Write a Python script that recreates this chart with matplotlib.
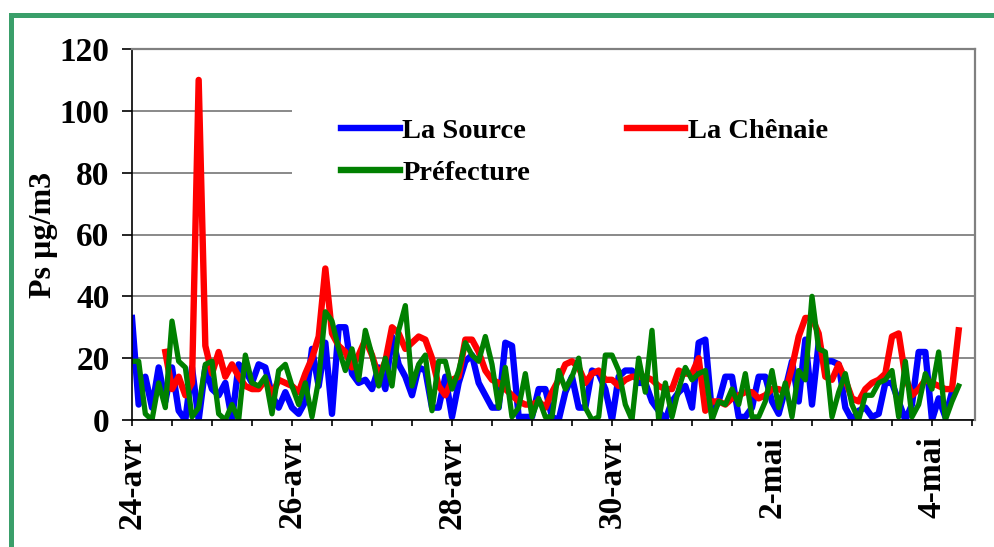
import numpy as np
import matplotlib
matplotlib.use('Agg')
import matplotlib.pyplot as plt
from matplotlib.patches import Rectangle

plt.rcParams.update({
    'font.family': ['Liberation Serif', 'DejaVu Serif'],
    'font.weight': 'bold',
    'font.size': 21,
})

nan = np.nan

# 2-hourly values, starting 24-avr 00:00
la_source = [33, 5, 14, 4, 17, 6, 17, 3, 0, 17, 0, 17, 10, 8, 12, 0, 18, 16,
             12, 18, 17, 8, 4, 9, 4, 2, 6, 23, 11, 25, 2, 30, 30, 15, 12, 13,
             10, 17, 10, 27, 18, 14, 8, 17, 16, 4, 4, 14, 1, 12, 19, 21, 12, 8,
             4, 4, 25, 24, 1, 1, 1, 10, 10, 1, 0, 9, 14, 4, 4, 16, 15, 10,
             0, 14, 16, 16, 12, 12, 6, 3, 0, 6, 9, 11, 4, 25, 26, 2, 6, 14,
             14, 1, 1, 4, 14, 14, 6, 2, 10, 19, 6, 26, 5, 25, 19, 19, 18, 4,
             0, 3, 4, 1, 2, 12, 12, 6, 0, 5, 22, 22, 0, 7, 1, 9, nan]

la_chenaie = [nan, nan, nan, nan, nan, 22, 10, 14, 8, 12, 110, 24, 15, 22, 14, 18, 14, 11,
              10, 10, 13, 8, 13, 12, 11, 9, 15, 20, 27, 49, 28, 24, 22, 17, 21, 26,
              21, 14, 19, 30, 28, 23, 25, 27, 26, 20, 11, 8, 13, 14, 26, 26, 22, 16,
              13, 12, 10, 8, 6, 5, 5, 6, 4, 9, 13, 18, 19, 17, 12, 15, 16, 13,
              13, 11, 13, 14, 14, 14, 13, 11, 10, 10, 16, 15, 15, 20, 3, 6, 6, 5,
              7, 8, 9, 9, 7, 8, 10, 10, 9, 17, 27, 33, 33, 28, 14, 13, 18, 13,
              7, 6, 10, 12, 13, 15, 27, 28, 14, 8, 10, 13, 12, 11, 10, 10, 29]

prefecture = [19, 19, 2, 0, 12, 4, 32, 19, 17, 1, 4, 18, 19, 2, 0, 5, 0, 21,
              12, 11, 14, 2, 16, 18, 11, 5, 12, 1, 13, 35, 32, 23, 16, 23, 13, 29,
              21, 11, 20, 11, 29, 37, 11, 18, 21, 3, 19, 19, 10, 16, 25, 21, 19, 27,
              18, 4, 17, 1, 4, 15, 1, 7, 1, 1, 16, 10, 14, 20, 4, 0, 1, 21,
              21, 16, 5, 0, 20, 9, 29, 0, 12, 1, 10, 17, 13, 15, 16, 0, 6, 5,
              10, 5, 15, 1, 1, 6, 16, 4, 12, 1, 16, 13, 40, 23, 22, 1, 9, 15,
              5, 0, 8, 8, 12, 13, 16, 1, 19, 1, 5, 15, 10, 22, 0, 6, 11]

STEP_H = 2
date_labels = ['24-avr', '26-avr', '28-avr', '30-avr', '2-mai', '4-mai']

days = np.arange(len(la_source)) * STEP_H / 24.0

W, H = 994, 547
fig = plt.figure(figsize=(W / 100, H / 100), dpi=100)
ax = fig.add_axes([132 / W, 1 - 420 / H, (975 - 132) / W, (420 - 49) / H])

l1, = ax.plot(days, la_source, color='#0000ff', lw=4.6, label='La Source', zorder=2)
l2, = ax.plot(days, la_chenaie, color='#ff0000', lw=4.6, label='La Chênaie', zorder=2.1)
l3, = ax.plot(days, prefecture, color='#008000', lw=3.8, label='Préfecture', zorder=2.2)

ax.set_xlim(0, (975 - 132) / 80.0)
ax.set_ylim(0, 120)
ax.set_yticks(np.arange(0, 121, 20))
xt = np.arange(0, 10.51, 0.5)
ax.set_xticks(xt)
ax.set_xticklabels([date_labels[int(v // 2)] if v % 2 == 0 else '' for v in xt],
                   rotation=90, fontsize=24, fontweight='bold')
ax.tick_params(axis='both', direction='out', width=1.2, colors='black', labelsize=24)
ax.tick_params(axis='x', length=4.5, pad=7)
ax.tick_params(axis='y', length=7.2, pad=9)

ax.yaxis.grid(True, color='#808080', lw=1.3)
ax.set_axisbelow(True)
for s in ('top', 'right'):
    ax.spines[s].set_color('#808080')
    ax.spines[s].set_linewidth(1.6)
    ax.spines[s].set_zorder(3)
ax.spines['left'].set_linewidth(1.2)
ax.spines['bottom'].set_linewidth(1.2)

ax.set_ylabel('Ps µg/m3', fontsize=23, fontweight='bold')
ax.yaxis.set_label_coords(-0.088, 0.5)

# white legend area hiding the gridlines behind it
ax.add_patch(Rectangle((0.19, 0.545), 0.81, 0.37, transform=ax.transAxes,
                       facecolor='white', edgecolor='none', zorder=1.5))
leg = ax.legend([l1, l3, l2], ['La Source', 'Préfecture', 'La Chênaie'], ncol=2,
                loc='upper left', bbox_to_anchor=(327 / W, 1 - 104 / H),
                bbox_transform=fig.transFigure, frameon=False, borderpad=0,
                handlelength=2.05, handletextpad=0.1, columnspacing=3.4,
                labelspacing=0.55, prop={'weight': 'bold', 'size': 20.5})
for h in leg.legend_handles:
    h.set_linewidth(4.6)

# green outer frame
fig.add_artist(Rectangle((11 / W, -0.1), 1.1, 0.1 + 1 - 15 / H,
                         transform=fig.transFigure, fill=False,
                         edgecolor='#3a9f6a', lw=3.6))

fig.savefig('out.png', dpi=100)
